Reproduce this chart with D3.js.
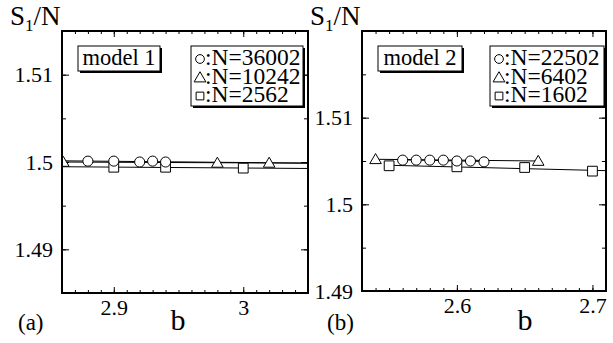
<!DOCTYPE html>
<html>
<head>
<meta charset="utf-8">
<script src="https://cdn.jsdelivr.net/npm/d3@7"></script>
<style>
  body { margin: 0; background: #fff; }
  svg { display: block; }
</style>
</head>
<body>
<svg id="chart" width="613" height="343"></svg>
<script>
// panel (a) : model 1
const bCircA = [2.88, 2.90, 2.92, 2.93, 2.94];
const sCircA = [1.5001, 1.5001, 1.5000, 1.5001, 1.5000];
const bTriA = [2.861, 2.98, 3.02];
const sTriA = [1.5000, 1.4999, 1.4999];
const bSqA = [2.90, 2.94, 3.00];
const sSqA = [1.4994, 1.4994, 1.4993];
const legendA = [":N=36002", ":N=10242", ":N=2562"];
const xTicksA = [2.9, 3];
const yTicksA = [1.49, 1.5, 1.51];
const spansA = [[2.86, 3.05], [2.86, 3.05], [2.86, 3.05]];

// panel (b) : model 2
const bCircB = [2.56, 2.57, 2.58, 2.59, 2.60, 2.61, 2.62];
const sCircB = [1.5051, 1.5051, 1.5051, 1.5051, 1.5050, 1.5050, 1.5049];
const bTriB = [2.54, 2.66];
const sTriB = [1.5052, 1.5050];
const bSqB = [2.55, 2.60, 2.65, 2.70];
const sSqB = [1.50445, 1.50433, 1.50425, 1.50383];
const legendB = [":N=22502", ":N=6402", ":N=1602"];
const xTicksB = [2.6, 2.7];
const yTicksB = [1.49, 1.5, 1.51];
const spansB = [[2.56, 2.62], [2.54, 2.66], [2.55, 2.71]];

const svg = d3.select('#chart');
const FONT = '"Liberation Serif"';

// least squares line through one series
function fit(xs, ys) {
  const mx = d3.mean(xs), my = d3.mean(ys);
  let num = 0, den = 0;
  xs.forEach((x, i) => { num += (x - mx) * (ys[i] - my); den += (x - mx) * (x - mx); });
  const k = den ? num / den : 0;
  return x => my + k * (x - mx);
}

function drawPanel(p) {
  const x = d3.scaleLinear().domain(p.xDomain).range([p.left, p.right]);
  const y = d3.scaleLinear().domain(p.yDomain).range([p.bottom, p.top]);
  const g = svg.append('g');

  // minor ticks (all four sides, pointing in)
  const xMinor = d3.range(Math.ceil(p.xDomain[0] * 100), Math.floor(p.xDomain[1] * 100) + 1).map(d => d / 100);
  const yMinor = d3.range(Math.ceil(p.yDomain[0] * 200), Math.floor(p.yDomain[1] * 200) + 1).map(d => d / 200);

  const axes = [
    [d3.axisBottom(x).tickValues(xMinor).tickSize(-3).tickFormat(''), `translate(0,${p.bottom})`],
    [d3.axisTop(x).tickValues(xMinor).tickSize(-3).tickFormat(''), `translate(0,${p.top})`],
    [d3.axisLeft(y).tickValues(yMinor).tickSize(-4).tickFormat(''), `translate(${p.left},0)`],
    [d3.axisRight(y).tickValues(yMinor).tickSize(-4).tickFormat(''), `translate(${p.right},0)`],
    [d3.axisTop(x).tickValues(p.xTicks).tickSize(-6).tickFormat(''), `translate(0,${p.top})`],
    [d3.axisRight(y).tickValues(p.yTicks).tickSize(-7).tickFormat(''), `translate(${p.right},0)`]
  ];
  axes.forEach(([ax, tr]) => {
    g.append('g').attr('transform', tr).call(ax)
      .call(s => s.select('.domain').remove())
      .selectAll('line').attr('stroke', '#000').attr('stroke-width', 1);
  });

  // labelled axes
  g.append('g').attr('transform', `translate(0,${p.bottom})`)
    .call(d3.axisBottom(x).tickValues(p.xTicks).tickSize(-6).tickPadding(6).tickFormat(d => String(d)))
    .call(s => s.select('.domain').remove())
    .call(s => s.selectAll('line').attr('stroke', '#000'))
    .selectAll('text').style('font-family', FONT).style('font-size', '22px').attr('fill', '#000');
  g.append('g').attr('transform', `translate(${p.left},0)`)
    .call(d3.axisLeft(y).tickValues(p.yTicks).tickSize(-7).tickPadding(9).tickFormat(d => String(d)))
    .call(s => s.select('.domain').remove())
    .call(s => s.selectAll('line').attr('stroke', '#000'))
    .selectAll('text').style('font-family', FONT).style('font-size', '22px').attr('fill', '#000');

  // fitted lines and markers, clipped to the frame
  const clipId = 'clip-' + p.name;
  svg.append('clipPath').attr('id', clipId).append('rect')
    .attr('x', p.left).attr('y', p.top).attr('width', p.right - p.left).attr('height', p.bottom - p.top);
  const plot = g.append('g').attr('clip-path', `url(#${clipId})`);

  const line = d3.line().x(d => x(d[0])).y(d => y(d[1]));
  p.series.forEach((s, i) => {
    const f = fit(s.b, s.v);
    const span = p.spans[i];
    plot.append('path').datum(span.map(b => [b, f(b)]))
      .attr('d', line).attr('fill', 'none').attr('stroke', '#000').attr('stroke-width', 1);
  });

  const sym = {
    circle: d3.symbol(d3.symbolCircle, 80),
    triangle: d3.symbol(d3.symbolTriangle, 58),
    square: d3.symbol(d3.symbolSquare, 95)
  };
  // order: squares, triangles, circles on top
  [2, 1, 0].forEach(i => {
    const s = p.series[i];
    plot.selectAll(null).data(s.b.map((b, j) => [b, s.v[j]])).enter().append('path')
      .attr('d', sym[s.shape]())
      .attr('transform', d => `translate(${x(d[0])},${y(d[1]) + (s.shape === 'triangle' ? 1 : 0)})`)
      .attr('fill', '#fff').attr('stroke', '#000').attr('stroke-width', 1);
  });

  // frame
  g.append('rect').attr('x', p.left).attr('y', p.top)
    .attr('width', p.right - p.left).attr('height', p.bottom - p.top)
    .attr('fill', 'none').attr('stroke', '#000').attr('stroke-width', 2);

  const label = (sel, size) => sel.style('font-family', FONT).style('font-size', size + 'px').attr('fill', '#000');

  // model box with shadow
  const mb = p.modelBox;
  g.append('rect').attr('x', mb.x + 2).attr('y', mb.y + 2).attr('width', mb.w).attr('height', mb.h).attr('fill', '#000');
  g.append('rect').attr('x', mb.x).attr('y', mb.y).attr('width', mb.w).attr('height', mb.h)
    .attr('fill', '#fff').attr('stroke', '#000').attr('stroke-width', 1);
  label(g.append('text').attr('x', mb.x + mb.w / 2).attr('y', mb.y + mb.h - 6)
    .attr('text-anchor', 'middle'), 22.5).text(p.model);

  // legend box with shadow
  const lb = p.legendBox;
  g.append('rect').attr('x', lb.x + 2).attr('y', lb.y + 2).attr('width', lb.w).attr('height', lb.h).attr('fill', '#000');
  g.append('rect').attr('x', lb.x).attr('y', lb.y).attr('width', lb.w).attr('height', lb.h)
    .attr('fill', '#fff').attr('stroke', '#000').attr('stroke-width', 1);
  p.series.forEach((s, i) => {
    const cy = lb.y + 19 + i * 18.5;
    g.append('path').attr('d', d3.symbol(d3[{ circle: 'symbolCircle', triangle: 'symbolTriangle', square: 'symbolSquare' }[s.shape]], 60)())
      .attr('transform', `translate(${lb.x + 9},${cy - 6 + (s.shape === 'triangle' ? 1 : 0)})`)
      .attr('fill', '#fff').attr('stroke', '#000').attr('stroke-width', 1);
    label(g.append('text').attr('x', lb.x + 14).attr('y', cy), 23.5).text(p.legend[i]);
  });

  // axis titles
  const t = label(g.append('text').attr('x', p.left - 52).attr('y', 25), 27);
  t.append('tspan').text('S');
  t.append('tspan').style('font-size', '17px').attr('dy', 6).text('1');
  t.append('tspan').attr('dy', -6).text('/N');
  label(g.append('text').attr('x', p.bLabelX).attr('y', 330).attr('text-anchor', 'middle'), 30).text('b');
  label(g.append('text').attr('x', p.tagX).attr('y', 330), 23).text(p.tag);
}

drawPanel({
  name: 'a', left: 62, right: 308, top: 31, bottom: 293,
  xDomain: [2.86, 3.05], yDomain: [1.485, 1.515],
  xTicks: xTicksA, yTicks: yTicksA, spans: spansA,
  series: [
    { b: bCircA, v: sCircA, shape: 'circle' },
    { b: bTriA, v: sTriA, shape: 'triangle' },
    { b: bSqA, v: sSqA, shape: 'square' }
  ],
  legend: legendA, model: 'model 1', tag: '(a)', tagX: 18, bLabelX: 178,
  modelBox: { x: 78, y: 46, w: 82, h: 25 },
  legendBox: { x: 191, y: 46, w: 112, h: 60 }
});

drawPanel({
  name: 'b', left: 362, right: 606, top: 31, bottom: 291,
  xDomain: [2.53, 2.71], yDomain: [1.49, 1.52],
  xTicks: xTicksB, yTicks: yTicksB, spans: spansB,
  series: [
    { b: bCircB, v: sCircB, shape: 'circle' },
    { b: bTriB, v: sTriB, shape: 'triangle' },
    { b: bSqB, v: sSqB, shape: 'square' }
  ],
  legend: legendB, model: 'model 2', tag: '(b)', tagX: 327, bLabelX: 525,
  modelBox: { x: 378, y: 46, w: 84, h: 25 },
  legendBox: { x: 490, y: 46, w: 114, h: 60 }
});
</script>
</body>
</html>
